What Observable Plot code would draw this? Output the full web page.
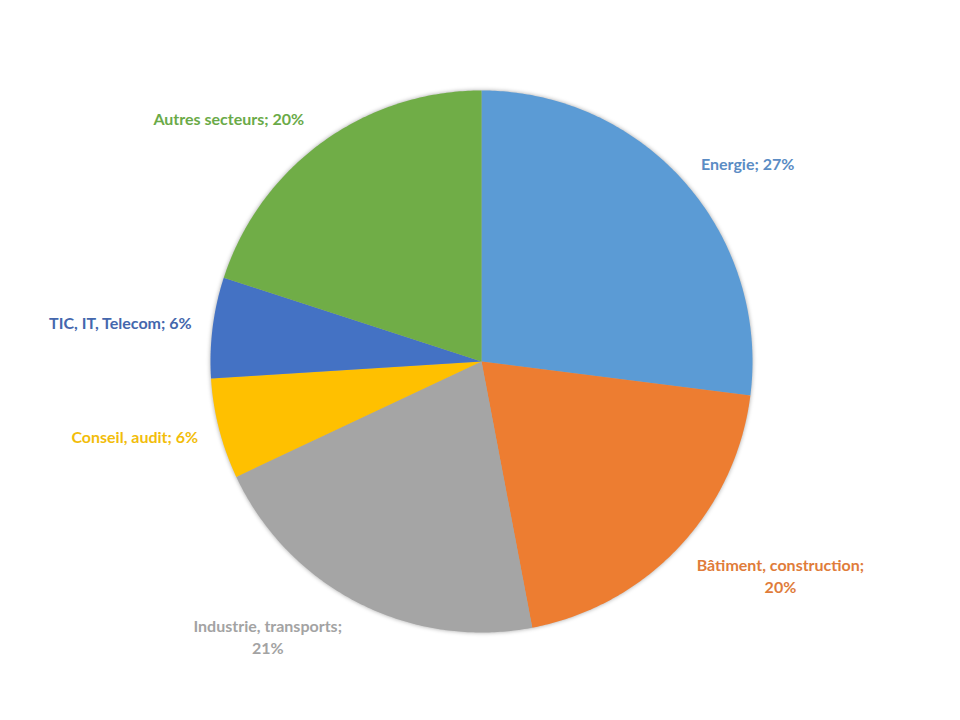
<!DOCTYPE html>
<html>
<head>
<meta charset="utf-8">
<script src="https://cdn.jsdelivr.net/npm/d3@7"></script>
<script src="https://cdn.jsdelivr.net/npm/@observablehq/plot@0.6"></script>
<style>
  html, body { margin: 0; padding: 0; background: #fff; }
  #chart svg { display: block; }
  #chart g[aria-label="line"] { filter: drop-shadow(0 0 2px rgba(0,0,0,0.35)); }
</style>
</head>
<body>
<div id="chart"></div>
<script>
// ---- data ----
const categories = ["Energie", "Bâtiment, construction", "Industrie, transports", "Conseil, audit", "TIC, IT, Telecom", "Autres secteurs"];
const shares = [27, 20, 21, 6, 6, 20];
const sliceColors = ["#5B9BD5", "#ED7D31", "#A5A5A5", "#FFC000", "#4472C4", "#70AD47"];
const labelColors = ["#5A8CC4", "#E07C3A", "#A3A3A3", "#F2BD0A", "#4467AD", "#6AAA48"];
const labelTexts = ["Energie; 27%", "Bâtiment, construction;\n20%", "Industrie, transports;\n21%", "Conseil, audit; 6%", "TIC, IT, Telecom; 6%", "Autres secteurs; 20%"];

// ---- layout (label placement relative to slice mid-angle) ----
const labelRadius = [1.22, 1.36, 1.29, 1.31, 1.34, 1.29];
const labelAngleShift = [5.0, -7.4, 10.7, 2.0, -1.2, -10.3]; // degrees

// build slices via d3.pie (clockwise from 12 o'clock)
const pie = d3.pie().sort(null).value(d => d.share);
const rows = categories.map((c, i) => ({category: c, share: shares[i], i}));
const arcs = pie(rows);

const slicePoints = [];
arcs.forEach(a => {
  const n = Math.max(4, Math.ceil((a.endAngle - a.startAngle) / 0.01));
  slicePoints.push({category: a.data.category, x: 0, y: 0});
  for (let k = 0; k <= n; k++) {
    const t = a.startAngle + (a.endAngle - a.startAngle) * k / n;
    slicePoints.push({category: a.data.category, x: Math.sin(t), y: Math.cos(t)});
  }
  slicePoints.push({category: a.data.category, x: 0, y: 0});
});

const labels = arcs.map((a, i) => {
  const mid = (a.startAngle + a.endAngle) / 2 + labelAngleShift[i] * Math.PI / 180;
  return {
    category: a.data.category,
    text: labelTexts[i],
    color: labelColors[i],
    x: labelRadius[i] * Math.sin(mid),
    y: labelRadius[i] * Math.cos(mid)
  };
});

const chart = Plot.plot({
  width: 960,
  height: 720,
  marginLeft: 210,
  marginRight: 208,
  marginTop: 90,
  marginBottom: 88,
  x: {domain: [-1, 1], axis: null},
  y: {domain: [-1, 1], axis: null},
  color: {domain: categories, range: sliceColors},
  style: {fontFamily: "Lato, 'Open Sans', sans-serif", background: "#fff", overflow: "visible"},
  marks: [
    Plot.line(slicePoints, {x: "x", y: "y", z: "category", fill: "category", stroke: null, curve: "linear"}),
    Plot.text(labels, {
      x: "x", y: "y", text: "text",
      fill: d => d.color,
      fontSize: 16, fontWeight: "bold", textAnchor: "middle", lineHeight: 1.4, dy: -2
    })
  ]
});

document.getElementById("chart").appendChild(chart);
</script>
</body>
</html>
